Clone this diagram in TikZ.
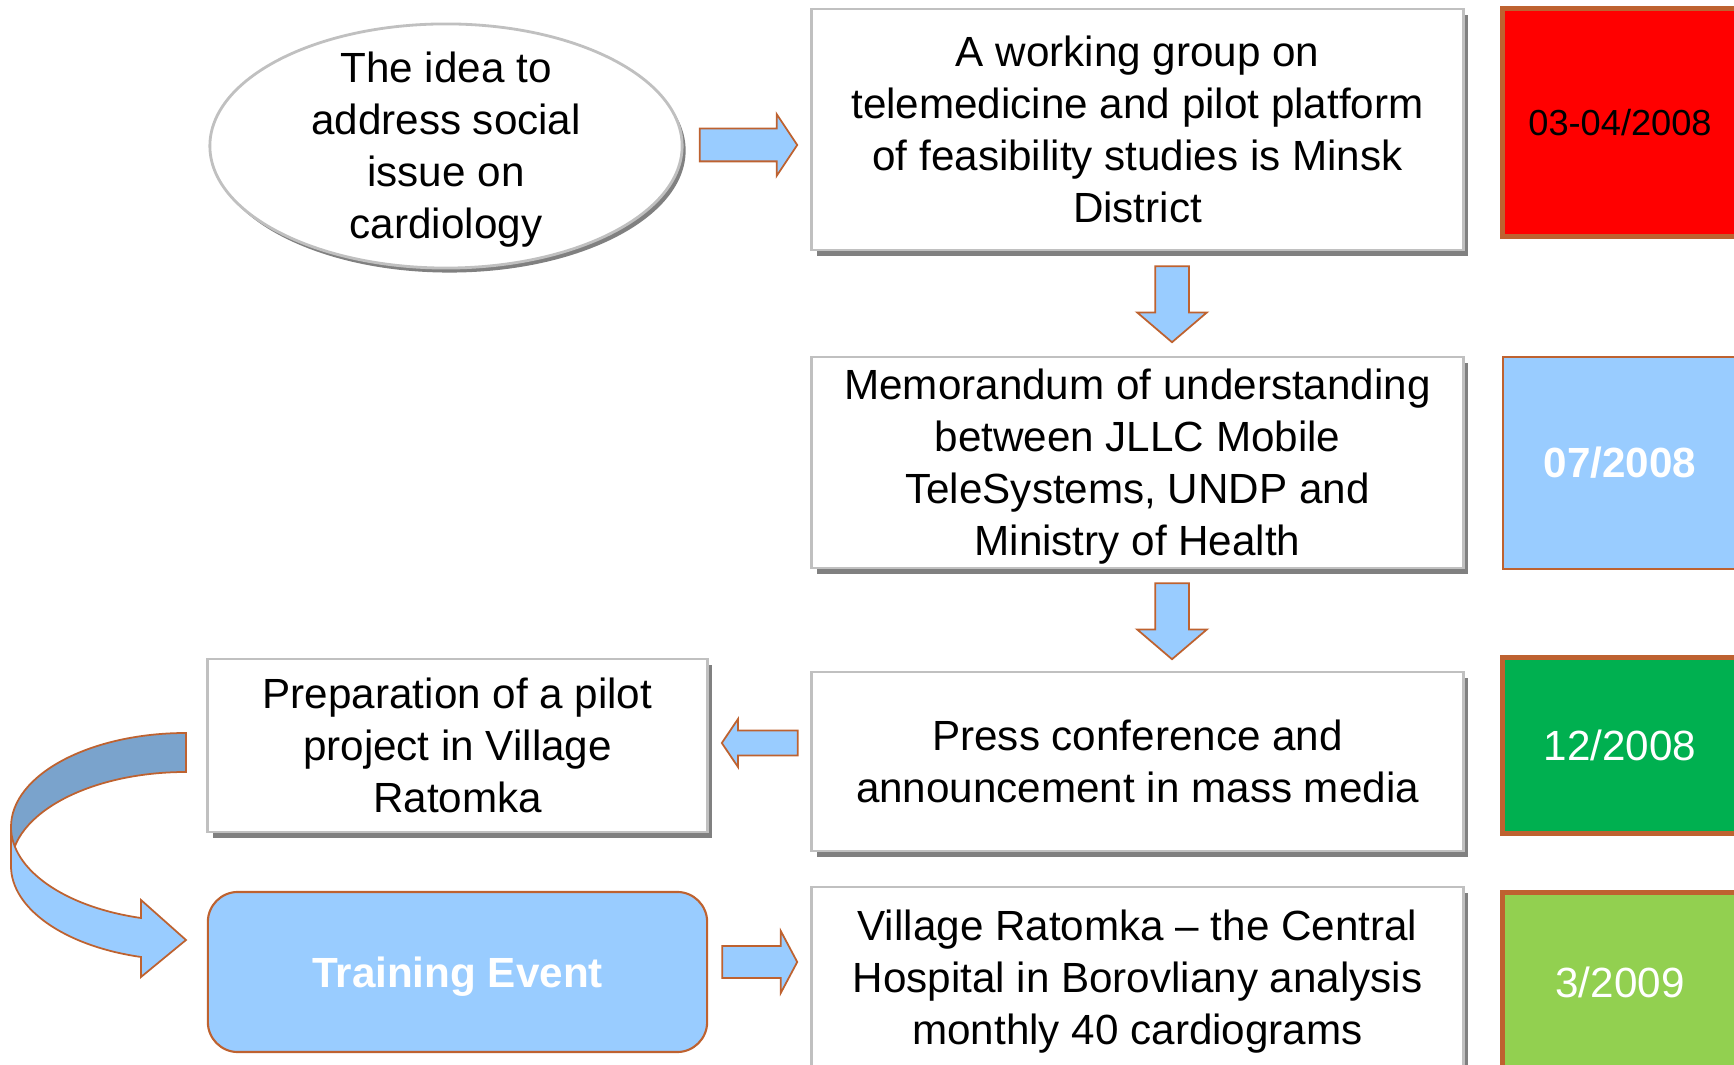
\documentclass[tikz,border=0pt]{standalone}
\usepackage{fontspec}
\setmainfont{Liberation Sans}
\usetikzlibrary{shapes.geometric,shapes.arrows,shadows}
\definecolor{lblue}{HTML}{99CCFF}
\definecolor{bandblue}{HTML}{7AA3CC}
\definecolor{brownc}{HTML}{BE6230}
\definecolor{boxgray}{HTML}{C0C0C0}
\definecolor{shgray}{HTML}{808080}
\definecolor{dgreen}{HTML}{00B050}
\definecolor{lgreen}{HTML}{92D050}
\tikzset{
  shadowed/.style={drop shadow={shadow xshift=0.05cm, shadow yshift=-0.06cm, fill=shgray, opacity=1}},
  wbox/.style={rectangle, draw=boxgray, line width=0.8pt, fill=white, align=center, inner sep=0pt, minimum width=6.51cm, shadowed},
  datebox/.style={rectangle, draw=brownc, line width=1.4pt, align=center, inner sep=0pt, minimum width=2.34cm},
  barrow/.style={single arrow, draw=brownc, fill=lblue, line width=0.5pt, inner xsep=0pt, single arrow head indent=0pt},
  vbarrow/.style={single arrow, draw=brownc, fill=lblue, line width=0.5pt, inner ysep=0pt, single arrow head indent=0pt, shape border rotate=270},
  maintext/.style={font=\fontsize{12}{14.8}\selectfont}
}
\begin{document}
\begin{tikzpicture}[x=0.01cm, y=-0.01cm, maintext]
\clip (0,0) rectangle (1734,1065);
\useasboundingbox (0,0) rectangle (1734,1065);

% ellipse
\node[ellipse, draw=boxgray, line width=0.8pt, fill=white, drop shadow={shadow xshift=0.035cm, shadow yshift=-0.045cm, fill=shgray, opacity=1}, inner sep=0pt,
      minimum width=4.72cm, minimum height=2.44cm] (idea) at (446,146) {};
\node[align=center, inner sep=0pt] (ideatext) at ([yshift=-0.04cm]idea.center)
  {The idea to\\address social\\issue on\\cardiology};

% main boxes
\node[wbox, minimum height=2.41cm] (wg) at (1137.5,129.5)
  {A working group on\\telemedicine and pilot platform\\of feasibility studies is Minsk\\District};
\node[wbox, minimum height=2.11cm, text depth=0pt] (mou) at (1137.5,462.5)
  {Memorandum of understanding\\between JLLC Mobile\\TeleSystems, UNDP and\\Ministry of Health};
\node[wbox, minimum height=1.79cm] (press) at (1137.5,761.5)
  {Press conference and\\announcement in mass media};
\node[wbox, minimum height=1.81cm, text depth=0pt] (vill) at (1137.5,977.5)
  {Village Ratomka -- the Central\\Hospital in Borovliany analysis\\monthly 40 cardiograms};
\node[wbox, minimum width=4.99cm, minimum height=1.73cm] (prep) at (457.5,745.5)
  {Preparation of a pilot\\project in Village\\Ratomka};
\node[rectangle, rounded corners=0.3cm, draw=brownc, line width=0.6pt, fill=lblue, inner sep=0pt, text depth=0pt,
      minimum width=4.99cm, minimum height=1.60cm, text=white, font=\fontsize{12}{14.8}\selectfont\bfseries] (train) at (457.5,972)
  {Training Event};

% date boxes
\node[datebox, fill=red, minimum height=2.27cm, font=\fontsize{10.3}{12}\selectfont] (d1) at (1620,122.5) {03-04/2008};
\node[datebox, fill=lblue, line width=0.6pt, minimum height=2.12cm, text=white, font=\fontsize{12}{14.8}\selectfont\bfseries] (d2) at (1620,463) {07/2008};
\node[datebox, fill=dgreen, minimum height=1.75cm, text=white] (d3) at (1620,745.5) {12/2008};
\node[datebox, fill=lgreen, minimum height=1.78cm, text=white] (d4) at (1620,982) {3/2009};

% block arrows
\node[barrow, inner ysep=0.155cm, minimum height=0.975cm, minimum width=0.60cm, single arrow head extend=0.145cm, single arrow tip angle=112.6] (a1) at (743,145) {};
\node[vbarrow, inner xsep=0.16cm, minimum height=0.76cm, minimum width=0.68cm, single arrow head extend=0.18cm, single arrow tip angle=99] (a2) at (1172,297) {};
\node[vbarrow, inner xsep=0.16cm, minimum height=0.76cm, minimum width=0.68cm, single arrow head extend=0.18cm, single arrow tip angle=99] (a3) at (1172,614) {};
\node[barrow, shape border rotate=180, inner ysep=0.115cm, minimum height=0.76cm, minimum width=0.46cm, single arrow head extend=0.115cm, single arrow tip angle=112] (a4) at (764,743) {};
\node[barrow, inner ysep=0.15cm, minimum height=0.75cm, minimum width=0.60cm, single arrow head extend=0.15cm, single arrow tip angle=124] (a5) at (755.5,962) {};

% curved arrow
\path[draw=brownc, fill=bandblue, line width=0.5pt]
  (186,733) .. controls (89.4,733) and (11,775.1) .. (11,827) -- (11,866)
  .. controls (11,814.1) and (89.4,772) .. (186,772) -- cycle;
\path[draw=brownc, fill=lblue, line width=0.5pt]
  (11,827) .. controls (11,869.5) and (64.5,907) .. (141,918) -- (141,900) -- (186,940)
  -- (141,977) -- (141,957) .. controls (64.5,946) and (11,908.5) .. (11,866) -- cycle;
\end{tikzpicture}
\end{document}
